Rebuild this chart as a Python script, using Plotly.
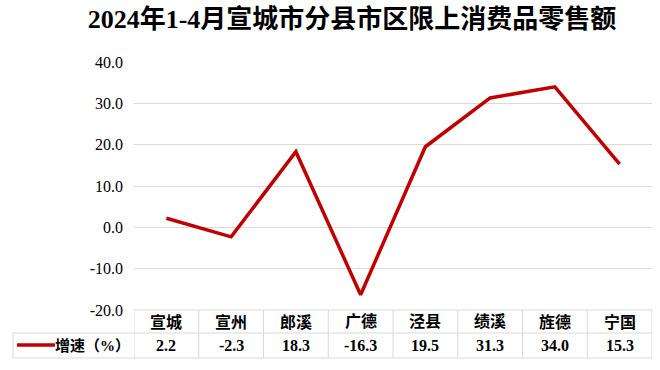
import plotly.graph_objects as go

title_text = "2024年1-4月宣城市分县市区限上消费品零售额"
categories = ["宣城", "宣州", "郎溪", "广德", "泾县", "绩溪", "旌德", "宁国"]
growth = [2.2, -2.3, 18.3, -16.3, 19.5, 31.3, 34.0, 15.3]
series_name = "增速（%）"
y_ticks = [-20, -10, 0, 10, 20, 30, 40]

W, H = 660, 370
L, R, T, B = 134, 652, 62, 310
RED = "#C00000"
GRID = "#D9D9D9"
FONT = "Liberation Serif, Noto Sans CJK SC"

def py(p):  # pixel y -> paper y
    return (B - p) / (B - T)

def px(p):  # pixel x -> paper x
    return (p - L) / (R - L)

fig = go.Figure()
fig.add_trace(go.Scatter(
    x=list(range(len(categories))), y=growth, mode="lines",
    line=dict(color=RED, width=3.5), name=series_name, showlegend=False,
    hoverinfo="skip",
))

shapes = []
annotations = []
row1_top, row1_bot, row2_bot = 310, 333, 358
left_x = 13
shapes.append(dict(type="line", xref="paper", yref="paper", x0=0, x1=px(653), y0=py(row1_top), y1=py(row1_top), line=dict(color=GRID, width=1)))
for yy in (row1_bot, row2_bot):
    shapes.append(dict(type="line", xref="paper", yref="paper", x0=px(left_x), x1=px(653), y0=py(yy), y1=py(yy), line=dict(color=GRID, width=1)))
shapes.append(dict(type="line", xref="paper", yref="paper", x0=px(left_x), x1=px(left_x), y0=py(row1_bot), y1=py(row2_bot), line=dict(color=GRID, width=1)))
for i in range(len(categories) + 1):
    shapes.append(dict(type="line", xref="x", yref="paper", x0=i - 0.5, x1=i - 0.5, y0=py(row1_top), y1=py(row2_bot), line=dict(color=GRID, width=1)))
shapes.append(dict(type="line", xref="paper", yref="paper", x0=px(17), x1=px(55), y0=py(345), y1=py(345), line=dict(color=RED, width=3.5)))

for i, (c, v) in enumerate(zip(categories, growth)):
    annotations.append(dict(x=i, xref="x", y=py((row1_top + row1_bot) / 2), yref="paper", text=f"<b>{c}</b>", showarrow=False, font=dict(family=FONT, size=16, color="#000"), xanchor="center", yanchor="middle"))
    annotations.append(dict(x=i, xref="x", y=py((row1_bot + row2_bot) / 2), yref="paper", text=f"<b>{v:.1f}</b>", showarrow=False, font=dict(family=FONT, size=16, color="#000"), xanchor="center", yanchor="middle"))
annotations.append(dict(x=px(92), xref="paper", y=py((row1_bot + row2_bot) / 2), yref="paper", text=f"<b>{series_name}</b>", showarrow=False, font=dict(family=FONT, size=15, color="#000"), xanchor="center", yanchor="middle"))

fig.update_layout(
    width=W, height=H,
    margin=dict(l=L, r=W - R, t=T, b=H - B),
    paper_bgcolor="white", plot_bgcolor="white",
    title=dict(text=f"<b>{title_text}</b>", x=352 / W, xanchor="center", y=1 - 19 / H, yanchor="middle",
               font=dict(family=FONT, size=26, color="#000")),
    xaxis=dict(range=[-0.5, len(categories) - 0.5], showticklabels=False, showgrid=False, zeroline=False, showline=False, ticks=""),
    yaxis=dict(range=[-20, 40], tickvals=y_ticks, ticktext=[f"{t:.1f}" for t in y_ticks],
               showgrid=True, gridcolor=GRID, gridwidth=1, zeroline=False, showline=False, ticks="",
               ticklabelstandoff=10, tickfont=dict(family=FONT, size=16, color="#000")),
    shapes=shapes, annotations=annotations, showlegend=False,
)
fig.write_html("out.html", config={"displayModeBar": False},
               post_script="document.body.style.margin='0';document.body.style.overflow='hidden';")
